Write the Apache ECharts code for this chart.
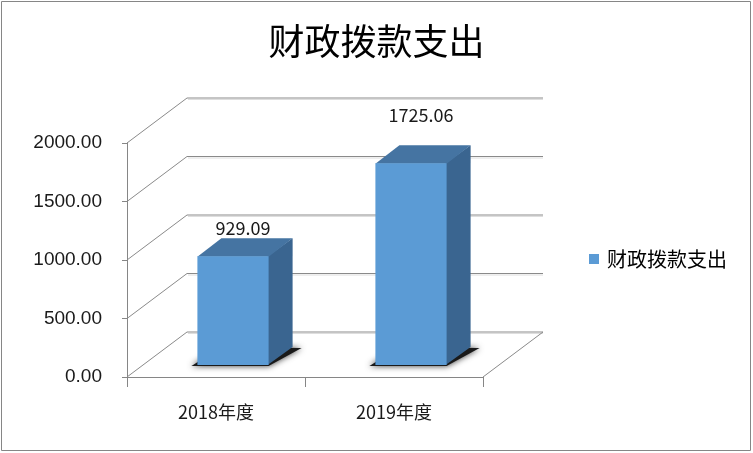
<!DOCTYPE html>
<html>
<head>
<meta charset="utf-8">
<script src="https://cdn.jsdelivr.net/npm/echarts@6/dist/echarts.min.js"></script>
<style>
  html, body { margin: 0; padding: 0; background: #fff; }
  #main { width: 753px; height: 453px; }
</style>
</head>
<body>
<div id="main"></div>
<script>
// 数据
var categories = ['2018年度', '2019年度'];
var values = [929.09, 1725.06];
var yTicks = [0, 500, 1000, 1500, 2000];
var seriesName = '财政拨款支出';

// 3D 外观参数
var WALL_DX = 60, WALL_DY = -45;   // 背景墙深度
var OFF_DX = 17, OFF_DY = -12;     // 柱子到前沿的距离
var BAR_DX = 24, BAR_DY = -18;     // 柱子厚度
var FONT = '"Noto Sans CJK SC", "Liberation Sans", sans-serif';

var chart = echarts.init(document.getElementById('main'));

function renderBar(params, api) {
  var i = api.value(0), v = api.value(1);
  var base = api.coord([i, 0]);
  var top = api.coord([i, v]);
  var bw = api.size([1, 0])[0] * 0.4;
  var x0 = base[0] - bw / 2 + OFF_DX;
  var y0 = base[1] + OFF_DY;
  var y1 = y0 - (base[1] - top[1]);
  var x1 = x0 + bw;
  return {
    type: 'group',
    children: [
      { // 阴影
        type: 'polygon',
        shape: { points: [[x0 - 6, y0 + 1], [x1, y0 + 1], [x1 + BAR_DX + 9, y0 + BAR_DY + 1], [x0 + BAR_DX, y0 + BAR_DY]] },
        style: { fill: '#1a1a1a', shadowBlur: 6, shadowColor: 'rgba(0,0,0,0.8)' }
      },
      { // 侧面
        type: 'polygon',
        shape: { points: [[x1 - 1, y1], [x1 + BAR_DX, y1 + BAR_DY], [x1 + BAR_DX, y0 + BAR_DY], [x1 - 1, y0]] },
        style: { fill: '#3A6590' }
      },
      { // 顶面
        type: 'polygon',
        shape: { points: [[x0, y1 + 0.5], [x1, y1 + 0.5], [x1 + BAR_DX, y1 + BAR_DY], [x0 + BAR_DX, y1 + BAR_DY]] },
        style: { fill: '#4574A2' }
      },
      { // 正面
        type: 'rect',
        shape: { x: x0, y: y1, width: bw, height: y0 - y1 },
        style: { fill: '#5B9BD5' }
      },
      { // 数据标签
        type: 'text',
        style: {
          text: v.toFixed(2),
          x: x0 + bw / 2 + 10,
          y: y1 - 5 - v * 0.025,
          align: 'center',
          verticalAlign: 'middle',
          fill: '#1a1a1a',
          font: '18px ' + FONT
        }
      }
    ]
  };
}

var option = {
  animation: false,
  backgroundColor: '#fff',
  title: {
    text: seriesName,
    left: 'center',
    top: 18,
    textStyle: { fontSize: 36, fontWeight: 'normal', color: '#000', fontFamily: FONT }
  },
  legend: {
    data: [{ name: seriesName, icon: 'rect' }],
    left: 589,
    top: 249,
    padding: 0,
    itemWidth: 10,
    itemHeight: 10,
    itemGap: 0,
    textStyle: { fontSize: 20, color: '#000', fontFamily: FONT, padding: [0, 0, 0, 3] }
  },
  grid: { left: 127, right: 270, top: 143, bottom: 76 },
  xAxis: {
    type: 'category',
    data: categories,
    axisLine: { lineStyle: { color: '#868686' } },
    axisTick: { show: true, length: 10, lineStyle: { color: '#868686' } },
    axisLabel: { fontSize: 18, color: '#1a1a1a', margin: 26, fontFamily: FONT }
  },
  yAxis: {
    type: 'value',
    min: 0,
    max: 2000,
    interval: 500,
    axisLine: { show: true, lineStyle: { color: '#868686' } },
    axisTick: { show: true, length: 5, lineStyle: { color: '#868686' } },
    axisLabel: {
      fontSize: 19, color: '#1a1a1a', margin: 25, fontFamily: '"Liberation Sans", sans-serif',
      formatter: function (v) { return v.toFixed(2); }
    },
    splitLine: { show: false }
  },
  series: [{
    name: seriesName,
    type: 'custom',
    itemStyle: { color: '#5B9BD5' },
    renderItem: renderBar,
    data: values.map(function (v, i) { return [i, v]; }),
    z: 5
  }]
};
chart.setOption(option);

// 背景墙、侧墙、底面的网格线
var gx0 = 127, gx1 = 753 - 270;
var floorY = chart.convertToPixel({ yAxisIndex: 0 }, 0);
var els = [];
yTicks.forEach(function (t) {
  var yf = chart.convertToPixel({ yAxisIndex: 0 }, t);
  els.push({
    type: 'polyline',
    shape: { points: [[gx0, yf], [gx0 + WALL_DX, yf + WALL_DY], [gx1 + WALL_DX, yf + WALL_DY]] },
    style: { stroke: '#8a8a8a', lineWidth: 1, fill: null },
    z: 1
  });
  els.push({
    type: 'line',
    shape: { x1: gx0 + WALL_DX + 1, y1: yf + WALL_DY + 1.5, x2: gx1 + WALL_DX, y2: yf + WALL_DY + 1.5 },
    style: { stroke: '#dedede', lineWidth: 1 },
    z: 1
  });
});
els.push({
  type: 'line',
  shape: { x1: gx1, y1: floorY, x2: gx1 + WALL_DX, y2: floorY + WALL_DY },
  style: { stroke: '#8a8a8a', lineWidth: 1 },
  z: 1
});
els.push({
  type: 'rect',
  shape: { x: 1.5, y: 1.5, width: 749, height: 449 },
  style: { stroke: '#868686', fill: null, lineWidth: 1 },
  z: 1
});
chart.setOption({ graphic: { elements: els } });
</script>
</body>
</html>
